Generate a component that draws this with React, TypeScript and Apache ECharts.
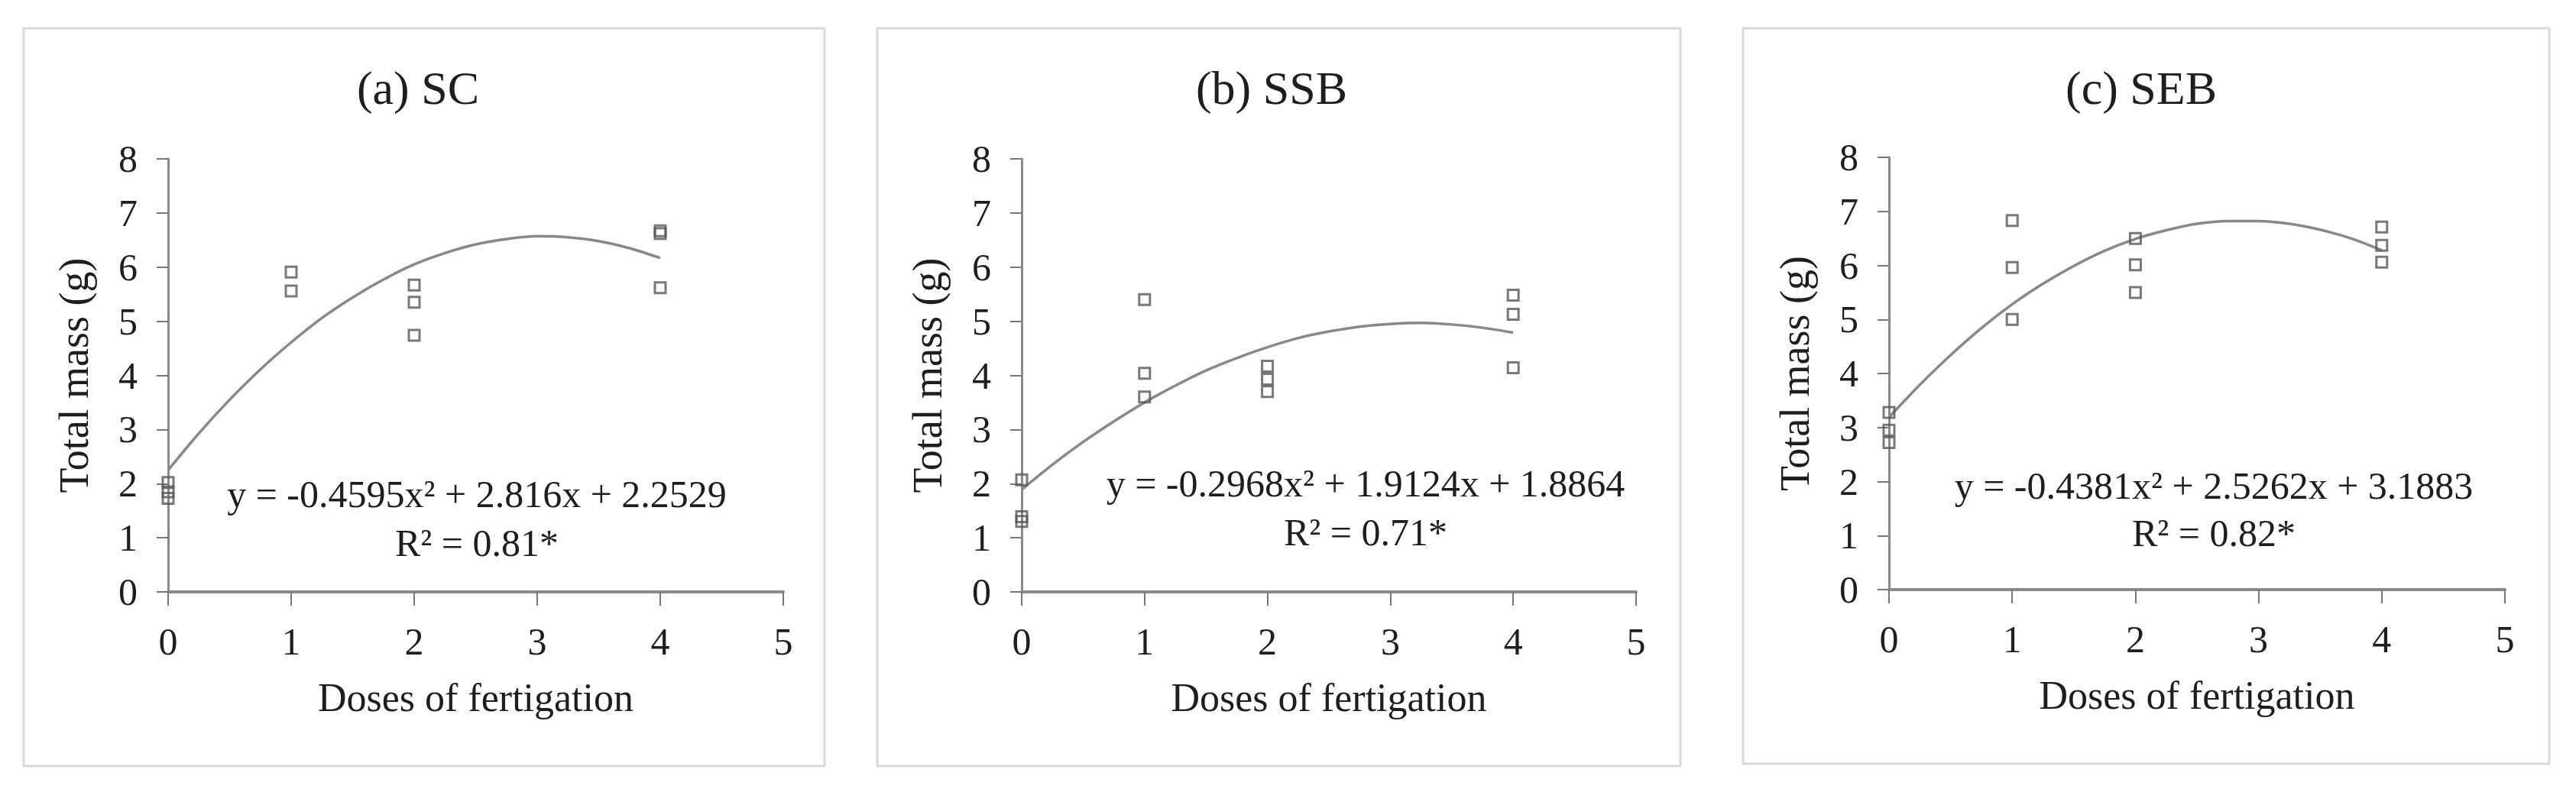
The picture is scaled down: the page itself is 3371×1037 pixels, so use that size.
import React, { useEffect, useRef } from "react";
import * as echarts from "echarts";

// ---------- data ----------
const panelTitles = ["(a) SC", "(b) SSB", "(c) SEB"];
const equationTexts = [
  "y = -0.4595x² + 2.816x + 2.2529",
  "y = -0.2968x² + 1.9124x + 1.8864",
  "y = -0.4381x² + 2.5262x + 3.1883",
];
const r2Texts = ["R² = 0.81*", "R² = 0.71*", "R² = 0.82*"];
const xTickLabels = ["0", "1", "2", "3", "4", "5"];
const yTickLabels = ["0", "1", "2", "3", "4", "5", "6", "7", "8"];
const xAxisName = "Doses of fertigation";
const yAxisName = "Total mass (g)";

const doses = [0, 1, 2, 4];
// observed values per dose (hollow squares)
const scObserved = [[2.02, 1.85, 1.73], [5.91, 5.56], [5.67, 5.35, 4.74], [6.67, 6.62, 5.62]];
const ssbObserved = [[2.07, 1.39, 1.3], [5.4, 4.04, 3.6], [4.17, 3.93, 3.7], [5.48, 5.13, 4.14]];
const sebObserved = [[3.28, 2.95, 2.72], [6.83, 5.96, 5.0], [6.5, 6.01, 5.5], [6.71, 6.37, 6.06]];

// trend curves
const trendX = [0, 0.25, 0.5, 0.75, 1, 1.25, 1.5, 1.75, 2, 2.25, 2.5, 2.75, 3, 3.25, 3.5, 3.75, 4];
const scTrend = [2.25, 2.93, 3.55, 4.11, 4.61, 5.06, 5.44, 5.77, 6.05, 6.26, 6.42, 6.52, 6.57, 6.55, 6.48, 6.35, 6.17];
const ssbTrend = [1.89, 2.35, 2.77, 3.15, 3.5, 3.81, 4.09, 4.32, 4.52, 4.69, 4.81, 4.9, 4.95, 4.97, 4.94, 4.88, 4.79];
const sebTrend = [3.19, 3.79, 4.34, 4.84, 5.28, 5.66, 5.99, 6.27, 6.49, 6.65, 6.77, 6.82, 6.82, 6.77, 6.66, 6.5, 6.28];

const observedSets = [scObserved, ssbObserved, sebObserved];
const trendSets = [scTrend, ssbTrend, sebTrend];

// ---------- layout ----------
const W = 3371;
const H = 1037;
const FONT = '"Liberation Serif", "Times New Roman", Times, serif';
const TEXT = "#1e1e1e";
const AXIS = "#8a8a8a";

const grids = [
  { left: 220, top: 208, width: 805, height: 567 },
  { left: 1337, top: 208, width: 804, height: 567 },
  { left: 2472, top: 206, width: 806, height: 566 },
];
const frames = [
  { x: 31, y: 37, w: 1048, h: 966 },
  { x: 1148, y: 37, w: 1051, h: 966 },
  { x: 2281, y: 37, w: 1055, h: 963 },
];
const titlePos = [
  [547, 115],
  [1664, 115],
  [2802, 115],
];
const eqPos = [
  [624, 647, 711],
  [1787, 633, 697],
  [2897, 636, 698],
];

export default function App() {
  const ref = useRef<HTMLDivElement>(null);

  useEffect(() => {
    if (!ref.current) return;
    const chart = echarts.init(ref.current, undefined, { renderer: "svg" });

    const xAxes = grids.map((_, i) => ({
      type: "value",
      gridIndex: i,
      min: 0,
      max: 5,
      interval: 1,
      name: xAxisName,
      nameLocation: "middle",
      nameGap: 112,
      nameTextStyle: { fontFamily: FONT, fontSize: 52, color: TEXT },
      axisLine: { show: true, onZero: false, lineStyle: { color: AXIS, width: 4 } },
      axisTick: { show: true, inside: false, length: 18, lineStyle: { color: "#777", width: 2 } },
      axisLabel: {
        fontFamily: FONT,
        fontSize: 50,
        color: TEXT,
        margin: 40,
        formatter: (v: number) => xTickLabels[Math.round(v)] ?? "",
      },
      splitLine: { show: false },
    }));

    const yAxes = grids.map((_, i) => ({
      type: "value",
      gridIndex: i,
      min: 0,
      max: 8,
      interval: 1,
      name: yAxisName,
      nameLocation: "middle",
      nameRotate: 90,
      nameGap: 96,
      nameTextStyle: { fontFamily: FONT, fontSize: 54, color: TEXT },
      axisLine: { show: true, onZero: false, lineStyle: { color: AXIS, width: 3 } },
      axisTick: { show: true, inside: false, length: 15, lineStyle: { color: "#777", width: 2 } },
      axisLabel: {
        fontFamily: FONT,
        fontSize: 50,
        color: TEXT,
        margin: 40,
        formatter: (v: number) => yTickLabels[Math.round(v)] ?? "",
      },
      splitLine: { show: false },
    }));

    const series: any[] = [];
    trendSets.forEach((trend, i) => {
      series.push({
        type: "line",
        xAxisIndex: i,
        yAxisIndex: i,
        data: trendX.map((x, k) => [x, trend[k]]),
        smooth: 0.25,
        showSymbol: false,
        lineStyle: { color: "#888888", width: 3.5 },
        z: 2,
      });
    });
    observedSets.forEach((obs, i) => {
      const pts: number[][] = [];
      obs.forEach((vals, d) => vals.forEach((v) => pts.push([doses[d], v])));
      series.push({
        type: "scatter",
        xAxisIndex: i,
        yAxisIndex: i,
        data: pts,
        symbol: "rect",
        symbolSize: 14,
        itemStyle: { color: "rgba(255,255,255,0)", borderColor: "#575757", borderWidth: 3 },
        z: 3,
      });
    });

    const graphic: any[] = [];
    frames.forEach((f) => {
      graphic.push({
        type: "rect",
        shape: { x: f.x, y: f.y, width: f.w, height: f.h },
        style: { fill: "none", stroke: "#d9d9d9", lineWidth: 3 },
        z: -1,
      });
    });
    panelTitles.forEach((t, i) => {
      graphic.push({
        type: "text",
        x: titlePos[i][0],
        y: titlePos[i][1],
        style: {
          text: t,
          fontFamily: FONT,
          fontSize: 62,
          fill: TEXT,
          textAlign: "center",
          textVerticalAlign: "middle",
        },
      });
    });
    equationTexts.forEach((t, i) => {
      graphic.push({
        type: "text",
        x: eqPos[i][0],
        y: eqPos[i][1],
        style: {
          text: t,
          fontFamily: FONT,
          fontSize: 50,
          fill: TEXT,
          textAlign: "center",
          textVerticalAlign: "middle",
        },
      });
      graphic.push({
        type: "text",
        x: eqPos[i][0],
        y: eqPos[i][2],
        style: {
          text: r2Texts[i],
          fontFamily: FONT,
          fontSize: 50,
          fill: TEXT,
          textAlign: "center",
          textVerticalAlign: "middle",
        },
      });
    });

    chart.setOption({
      animation: false,
      backgroundColor: "#ffffff",
      grid: grids.map((g) => ({ ...g, containLabel: false })),
      xAxis: xAxes,
      yAxis: yAxes,
      series,
      graphic,
    });

    return () => chart.dispose();
  }, []);

  return (
    <div
      ref={ref}
      style={{ position: "absolute", left: 0, top: 0, width: W, height: H, background: "#fff" }}
    />
  );
}
